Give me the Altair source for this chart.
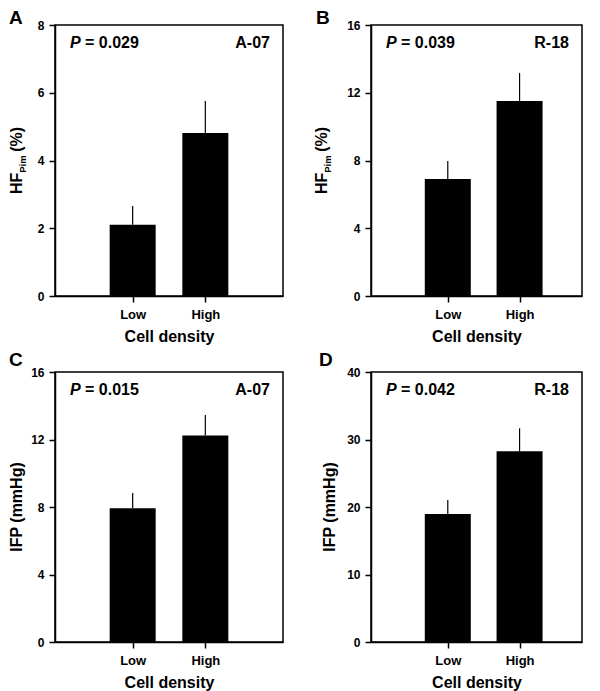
import json
import altair as alt
import pandas as pd

FONT = "Liberation Sans"

categories = ["Low", "High"]
positions = [1, 2]

panel_letters = ["A", "B", "C", "D"]
strain_labels = ["A-07", "R-18", "A-07", "R-18"]
p_values = ["0.029", "0.039", "0.015", "0.042"]

means_A = [2.10, 4.81]
sem_A = [0.56, 0.95]
means_B = [6.91, 11.51]
sem_B = [1.06, 1.66]
means_C = [7.92, 12.23]
sem_C = [0.91, 1.22]
means_D = [18.96, 28.25]
sem_D = [2.08, 3.41]

y_max = [8, 16, 16, 40]
y_ticks_A = [0, 2, 4, 6, 8]
y_ticks_B = [0, 4, 8, 12, 16]
y_ticks_C = [0, 4, 8, 12, 16]
y_ticks_D = [0, 10, 20, 30, 40]

hf_title = ["HF", "Pim", "(%)"]
ifp_title = "IFP (mmHg)"
x_title = "Cell density"


def text_layer(s, x, y, size, **kw):
    return alt.Chart(pd.DataFrame({"t": [s]})).mark_text(
        font=FONT, fontWeight="bold", fontSize=size, color="black", **kw
    ).encode(x=alt.value(x), y=alt.value(y), text="t:N")


def make_panel(idx, means, sems, yticks, ymax, xmax, width, height,
               kind, letter_dx, letter_dy, title_dx):
    df = pd.DataFrame({"pos": positions, "cat": categories,
                       "mean": means, "sem": sems})
    label_expr = json.dumps(categories) + "[datum.value - 1]"
    x_enc = alt.X("pos:Q",
                  scale=alt.Scale(domain=[0, xmax], nice=False, zero=False),
                  axis=alt.Axis(values=positions, labelExpr=label_expr,
                                title=x_title, labelFlush=False, grid=False))
    y_enc = alt.Y("mean:Q",
                  scale=alt.Scale(domain=[0, ymax], nice=False, zero=True),
                  axis=alt.Axis(values=yticks, title=None, grid=False,
                                labelFlush=False, format="d"))
    bars = alt.Chart(df).mark_bar(size=46, color="black").encode(x=x_enc, y=y_enc)
    errs = alt.Chart(df).transform_calculate(
        upper="datum.mean + datum.sem"
    ).mark_rule(color="black", strokeWidth=1.2).encode(
        x="pos:Q", y="mean:Q", y2="upper:Q"
    )
    layers = [bars, errs]
    layers.append(text_layer(panel_letters[idx], letter_dx, letter_dy, 19,
                             align="left", baseline="alphabetic"))
    layers.append(text_layer("P", 15, 23, 16, align="left",
                             baseline="alphabetic", fontStyle="italic"))
    layers.append(text_layer("= " + p_values[idx], 30, 23, 16, align="left",
                             baseline="alphabetic"))
    layers.append(text_layer(strain_labels[idx], width - 13, 23, 16,
                             align="right", baseline="alphabetic"))
    yc = height / 2
    if kind == "HF":
        l_hf, l_sub, l_gap, l_pct = 21.3, 16.5, 4.5, 24.9
        total = l_hf + l_sub + l_gap + l_pct
        start = yc + total / 2
        layers.append(text_layer(hf_title[0], title_dx, start, 16,
                                 align="left", baseline="alphabetic", angle=270))
        layers.append(text_layer(hf_title[1], title_dx + 4, start - l_hf, 9.5,
                                 align="left", baseline="alphabetic", angle=270))
        layers.append(text_layer(hf_title[2], title_dx, start - l_hf - l_sub - l_gap, 16,
                                 align="left", baseline="alphabetic", angle=270))
    else:
        layers.append(text_layer(ifp_title, title_dx, yc, 16,
                                 align="center", baseline="alphabetic", angle=270))
    return alt.layer(*layers).properties(width=width, height=height)


pA = make_panel(0, means_A, sem_A, y_ticks_A, y_max[0], 3.0, 228, 271, "HF", -46, -1, -33)
pB = make_panel(1, means_B, sem_B, y_ticks_B, y_max[1], 2.8, 211, 271, "HF", -55, -1, -44)
pC = make_panel(2, means_C, sem_C, y_ticks_C, y_max[2], 3.0, 228, 270, "IFP", -46, -6, -33)
pD = make_panel(3, means_D, sem_D, y_ticks_D, y_max[3], 2.8, 211, 270, "IFP", -52, -6, -36)

chart = alt.concat(pA, pB, pC, pD, columns=2, spacing={"row": 5, "column": 29},
                   align="each").properties(
    padding={"left": 0, "top": 0, "right": 0, "bottom": 0}, background="white"
).configure_view(
    stroke="black", strokeWidth=1.5
).configure_axis(
    labelFont=FONT, labelFontWeight="bold", labelFontSize=12, labelColor="black",
    titleFont=FONT, titleFontWeight="bold", titleFontSize=16, titleColor="black",
    domainColor="black", domainWidth=1.5, tickColor="black", tickWidth=1.5,
    tickSize=6, labelPadding=5, titlePadding=7
).configure_axisX(labelFontSize=13, labelPadding=6)

chart.save("out.html", embed_options={"renderer": "svg", "actions": False})
